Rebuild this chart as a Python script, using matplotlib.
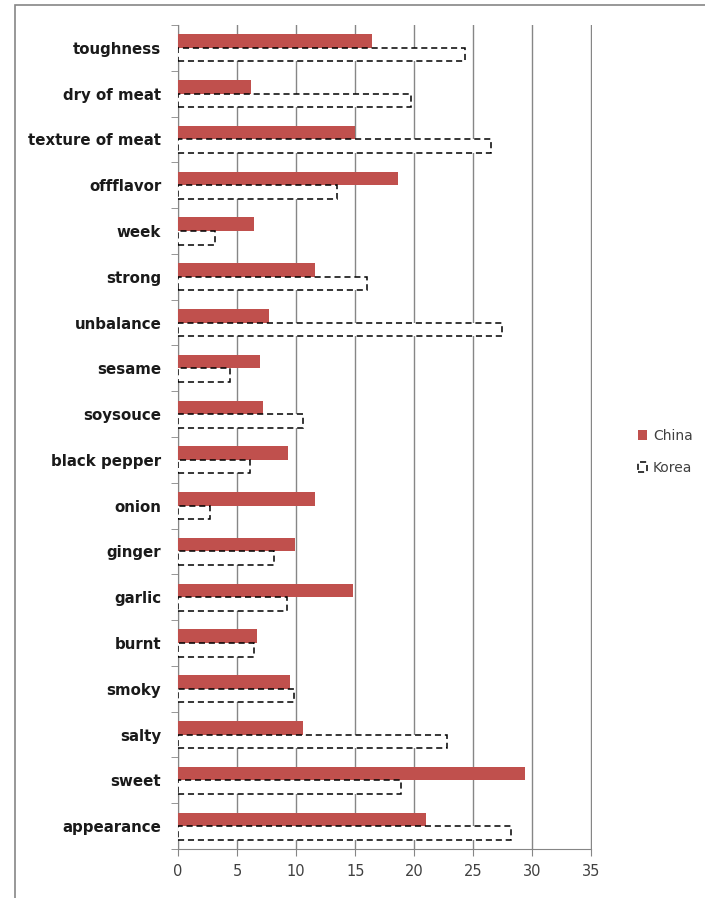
import numpy as np
import matplotlib.pyplot as plt
from matplotlib.patches import Rectangle

# categories top -> bottom as in the chart
categorias = ["toughness", "dry of meat", "texture of meat", "offflavor", "week",
              "strong", "unbalance", "sesame", "soysouce", "black pepper", "onion",
              "ginger", "garlic", "burnt", "smoky", "salty", "sweet", "appearance"]
china = [16.4, 6.2, 15.0, 18.6, 6.4, 11.6, 7.7, 6.9, 7.2, 9.3, 11.6, 9.9,
         14.8, 6.7, 9.5, 10.6, 29.4, 21.0]
korea = [24.3, 19.7, 26.5, 13.5, 3.1, 16.0, 27.4, 4.4, 10.6, 6.1, 2.7, 8.1,
         9.2, 6.4, 9.8, 22.8, 18.9, 28.2]
xticks = [0, 5, 10, 15, 20, 25, 30, 35]

fig = plt.figure(figsize=(7.05, 8.98), dpi=100)
ax = fig.add_axes([178/705, 1 - 849/898, (591.5-178)/705, (849-25)/898])

n = len(categorias)
y = np.arange(n)[::-1]  # first category at top
h = 0.295

ax.barh(y + h/2, china, height=h, color="#C0504D", label="China", zorder=3)
ax.barh(y - h/2, korea, height=h, facecolor="white", edgecolor="black",
        linestyle=(0, (4, 2.5)), linewidth=1.1, label="Korea", zorder=3)

ax.set_xlim(0, 35)
ax.set_ylim(-0.5, n - 0.5)
ax.set_xticks(xticks)
ax.set_xticklabels([str(v) for v in xticks], fontsize=10.5, color="#404040")
ax.set_yticks(y)
ax.set_yticklabels(categorias, fontsize=10.8, fontweight="bold", color="#1a1a1a")
ax.set_yticks(np.arange(n + 1) - 0.5, minor=True)
ax.tick_params(axis="y", which="major", length=0, pad=12)
ax.tick_params(axis="y", which="minor", length=5, color="#868686")
ax.tick_params(axis="x", length=5, color="#868686", pad=6)

ax.grid(axis="x", color="#868686", linewidth=1, zorder=0)
for s in ["top", "right"]:
    ax.spines[s].set_visible(False)
for s in ["left", "bottom"]:
    ax.spines[s].set_color("#868686")

leg = fig.legend(loc="upper left", bbox_to_anchor=(625/705, 1 - 416/898),
                 frameon=False, fontsize=10, handlelength=0.7, handleheight=0.7,
                 labelspacing=1.3, handletextpad=0.4)
for t in leg.get_texts():
    t.set_color("#404040")

# moldura cinza ao redor do grafico
fig.patches.append(Rectangle((15/705, -0.1), 1, 1 - 5/898 + 0.1, transform=fig.transFigure,
                             fill=False, edgecolor="#868686", linewidth=1.2))

fig.savefig("out.png", dpi=100)
